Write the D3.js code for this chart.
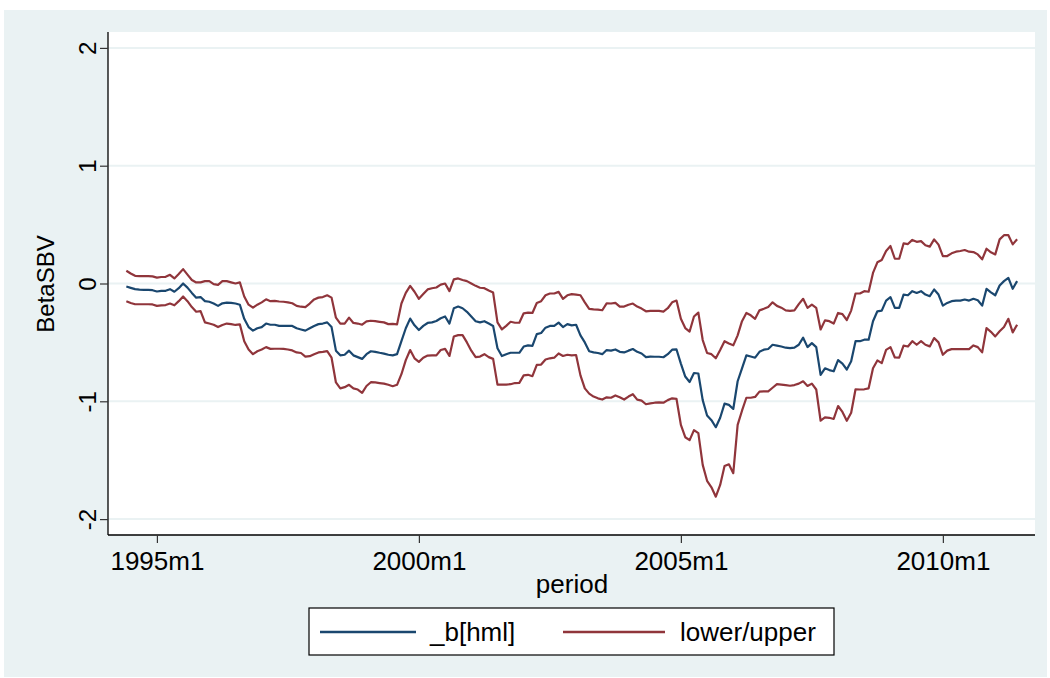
<!DOCTYPE html>
<html><head><meta charset="utf-8">
<script src="https://cdn.jsdelivr.net/npm/d3@7"></script>
<style>body{margin:0;background:#fff}svg{display:block}text{font-family:"Liberation Sans",Arial,sans-serif;fill:#000}</style>
</head><body><svg id="c" width="1050" height="678"></svg>
<script>
// first period of the series: 1994m6 (monthly)
const startYear = 1994, startMonth = 6;
const xTickLabels = ["1995m1","2000m1","2005m1","2010m1"];
const yTicks = [-2,-1,0,1,2];
const seriesNames = ["_b[hml]","lower/upper"];

const beta = [
-0.026,-0.037,-0.048,-0.052,-0.054,-0.054,-0.057,-0.068,-0.063,-0.062,
-0.048,-0.070,-0.040,0.000,-0.035,-0.080,-0.120,-0.115,-0.150,-0.155,
-0.170,-0.190,-0.168,-0.163,-0.165,-0.170,-0.180,-0.300,-0.370,-0.400,
-0.380,-0.370,-0.340,-0.350,-0.350,-0.360,-0.360,-0.360,-0.360,-0.380,
-0.390,-0.400,-0.380,-0.360,-0.345,-0.340,-0.330,-0.370,-0.570,-0.610,
-0.605,-0.570,-0.610,-0.625,-0.640,-0.600,-0.575,-0.580,-0.588,-0.595,
-0.605,-0.610,-0.600,-0.490,-0.380,-0.298,-0.355,-0.395,-0.360,-0.335,
-0.330,-0.318,-0.295,-0.280,-0.340,-0.210,-0.196,-0.210,-0.240,-0.280,
-0.320,-0.330,-0.320,-0.340,-0.360,-0.550,-0.616,-0.600,-0.588,-0.588,
-0.588,-0.535,-0.525,-0.530,-0.430,-0.420,-0.375,-0.360,-0.360,-0.332,
-0.370,-0.345,-0.355,-0.350,-0.440,-0.500,-0.575,-0.585,-0.590,-0.600,
-0.565,-0.570,-0.560,-0.580,-0.585,-0.570,-0.556,-0.580,-0.594,-0.625,
-0.620,-0.622,-0.622,-0.626,-0.600,-0.562,-0.560,-0.680,-0.790,-0.836,
-0.760,-0.764,-0.990,-1.120,-1.160,-1.220,-1.140,-1.020,-1.030,-1.065,
-0.830,-0.720,-0.610,-0.620,-0.630,-0.580,-0.562,-0.556,-0.520,-0.527,
-0.535,-0.545,-0.548,-0.545,-0.520,-0.460,-0.540,-0.506,-0.540,-0.776,
-0.720,-0.735,-0.745,-0.650,-0.680,-0.730,-0.660,-0.490,-0.490,-0.477,
-0.477,-0.320,-0.236,-0.230,-0.145,-0.116,-0.207,-0.207,-0.094,-0.100,
-0.065,-0.080,-0.065,-0.094,-0.108,-0.051,-0.094,-0.188,-0.165,-0.150,
-0.145,-0.145,-0.136,-0.145,-0.130,-0.142,-0.188,-0.045,-0.075,-0.100,
-0.017,0.020,0.048,-0.045,0.020];

const upper = [
0.108,0.085,0.065,0.063,0.062,0.062,0.060,0.050,0.055,0.057,
0.074,0.043,0.080,0.122,0.075,0.030,0.009,0.010,0.020,0.020,
-0.005,-0.011,0.020,0.020,0.010,0.000,0.009,-0.110,-0.180,-0.205,
-0.180,-0.160,-0.134,-0.150,-0.148,-0.153,-0.155,-0.160,-0.168,-0.190,
-0.197,-0.200,-0.170,-0.135,-0.120,-0.115,-0.100,-0.120,-0.290,-0.340,
-0.340,-0.290,-0.335,-0.340,-0.350,-0.322,-0.316,-0.320,-0.325,-0.330,
-0.345,-0.342,-0.347,-0.170,-0.080,-0.020,-0.070,-0.130,-0.090,-0.050,
-0.040,-0.034,-0.010,0.000,-0.065,0.035,0.043,0.030,0.020,0.000,
-0.020,-0.036,-0.040,-0.060,-0.077,-0.330,-0.390,-0.360,-0.325,-0.333,
-0.333,-0.253,-0.248,-0.250,-0.165,-0.150,-0.100,-0.085,-0.085,-0.071,
-0.130,-0.100,-0.090,-0.095,-0.100,-0.160,-0.215,-0.220,-0.222,-0.227,
-0.168,-0.170,-0.164,-0.196,-0.196,-0.180,-0.170,-0.196,-0.213,-0.236,
-0.232,-0.232,-0.233,-0.238,-0.210,-0.160,-0.145,-0.300,-0.378,-0.408,
-0.280,-0.247,-0.480,-0.590,-0.600,-0.635,-0.565,-0.490,-0.510,-0.525,
-0.440,-0.320,-0.250,-0.270,-0.300,-0.228,-0.215,-0.200,-0.160,-0.190,
-0.205,-0.228,-0.233,-0.228,-0.175,-0.130,-0.207,-0.180,-0.207,-0.390,
-0.313,-0.320,-0.340,-0.250,-0.260,-0.310,-0.230,-0.085,-0.085,-0.065,
-0.070,0.090,0.180,0.200,0.276,0.318,0.210,0.210,0.340,0.335,
0.370,0.354,0.360,0.325,0.313,0.375,0.330,0.233,0.233,0.256,
0.270,0.276,0.284,0.270,0.267,0.247,0.205,0.295,0.265,0.247,
0.375,0.410,0.410,0.332,0.375];

const lower = [
-0.150,-0.165,-0.176,-0.176,-0.176,-0.176,-0.178,-0.190,-0.186,-0.183,
-0.170,-0.185,-0.150,-0.110,-0.150,-0.200,-0.240,-0.235,-0.330,-0.340,
-0.350,-0.370,-0.352,-0.340,-0.345,-0.352,-0.347,-0.490,-0.560,-0.600,
-0.575,-0.560,-0.540,-0.555,-0.554,-0.554,-0.555,-0.560,-0.568,-0.585,
-0.590,-0.620,-0.617,-0.600,-0.585,-0.580,-0.574,-0.630,-0.840,-0.890,
-0.880,-0.860,-0.890,-0.900,-0.929,-0.870,-0.838,-0.840,-0.845,-0.850,
-0.860,-0.872,-0.860,-0.770,-0.650,-0.565,-0.635,-0.665,-0.630,-0.612,
-0.610,-0.610,-0.565,-0.555,-0.615,-0.450,-0.438,-0.438,-0.500,-0.570,
-0.625,-0.620,-0.600,-0.625,-0.640,-0.858,-0.858,-0.858,-0.855,-0.845,
-0.844,-0.780,-0.775,-0.787,-0.690,-0.688,-0.645,-0.635,-0.630,-0.594,
-0.615,-0.605,-0.610,-0.607,-0.780,-0.890,-0.935,-0.960,-0.975,-0.985,
-0.966,-0.970,-0.950,-0.966,-0.985,-0.960,-0.940,-0.986,-0.994,-1.025,
-1.018,-1.012,-1.009,-1.012,-0.990,-0.975,-0.980,-1.200,-1.305,-1.330,
-1.245,-1.270,-1.540,-1.675,-1.730,-1.810,-1.710,-1.550,-1.535,-1.610,
-1.200,-1.080,-0.970,-0.970,-0.963,-0.918,-0.915,-0.915,-0.885,-0.855,
-0.858,-0.863,-0.868,-0.862,-0.850,-0.830,-0.870,-0.850,-0.900,-1.165,
-1.136,-1.140,-1.150,-1.040,-1.090,-1.165,-1.097,-0.898,-0.900,-0.898,
-0.890,-0.720,-0.653,-0.676,-0.563,-0.540,-0.628,-0.630,-0.528,-0.535,
-0.490,-0.520,-0.490,-0.520,-0.534,-0.463,-0.500,-0.605,-0.570,-0.557,
-0.557,-0.557,-0.557,-0.557,-0.526,-0.540,-0.585,-0.378,-0.410,-0.449,
-0.406,-0.370,-0.300,-0.415,-0.350];

// month index relative to 1995m1
const mIndex = beta.map((_, i) => (startYear - 1995) * 12 + (startMonth - 1) + i);
const tickMonths = xTickLabels.map(s => { const [y, m] = s.split("m").map(Number); return (y - 1995) * 12 + (m - 1); });

const svg = d3.select("#c");
const blue = "#1a476f", red = "#90353b", bg = "#eaf2f3";

svg.append("rect").attr("x", 4).attr("y", 10).attr("width", 1043).attr("height", 667).attr("fill", bg);

const pl = 108, pr = 1035, pt = 32, pb = 535;
svg.append("rect").attr("x", pl).attr("y", pt).attr("width", pr - pl).attr("height", pb - pt).attr("fill", "#fff");

const x = d3.scaleLinear().domain([-11.2, 201.1]).range([pl, pr]);
const y = d3.scaleLinear().domain([-2.135, 2.135]).range([pb, pt]);

// gridlines
svg.append("g").selectAll("line").data(yTicks).join("line")
  .attr("x1", pl).attr("x2", pr).attr("y1", d => y(d)).attr("y2", d => y(d))
  .attr("stroke", bg).attr("stroke-width", 2);

const line = d3.line().x((d, i) => x(mIndex[i])).y(d => y(d));
[lower, upper].forEach(s => svg.append("path").datum(s).attr("d", line)
  .attr("fill", "none").attr("stroke", red).attr("stroke-width", 2.2).attr("stroke-linejoin", "round"));
svg.append("path").datum(beta).attr("d", line)
  .attr("fill", "none").attr("stroke", blue).attr("stroke-width", 2.2).attr("stroke-linejoin", "round");

// y axis
const yAxis = svg.append("g").attr("transform", `translate(${pl},0)`)
  .call(d3.axisLeft(y).tickValues(yTicks).tickSize(8).tickFormat(d => String(d)));
yAxis.select(".domain").attr("stroke", "#000").attr("stroke-width", 1.3).attr("d", `M0,${pt}V${pb}`);
yAxis.selectAll(".tick line").attr("stroke", "#333").attr("stroke-width", 1.2);
yAxis.selectAll(".tick text").attr("font-size", 24).attr("font-family", "Liberation Sans, Arial, sans-serif")
  .attr("x", 0).attr("dy", 0).attr("text-anchor", "middle")
  .attr("transform", "translate(-20,0) rotate(-90) translate(0,8)");

// x axis
const xAxis = svg.append("g").attr("transform", `translate(0,${pb})`)
  .call(d3.axisBottom(x).tickValues(tickMonths).tickSize(8).tickFormat((d, i) => xTickLabels[i]));
xAxis.select(".domain").attr("stroke", "#000").attr("stroke-width", 1.3).attr("d", `M${pl},0H${pr}`);
xAxis.selectAll(".tick line").attr("stroke", "#333").attr("stroke-width", 1.2);
xAxis.selectAll(".tick text").attr("font-size", 26).attr("font-family", "Liberation Sans, Arial, sans-serif")
  .attr("y", 35).attr("dy", 0);

// axis titles
svg.append("text").attr("x", 572).attr("y", 593).attr("text-anchor", "middle").attr("font-size", 26).text("period");
svg.append("text").attr("transform", "translate(54,284) rotate(-90)").attr("text-anchor", "middle").attr("font-size", 24).text("BetaSBV");

// legend
const lg = svg.append("g");
lg.append("rect").attr("x", 309).attr("y", 608).attr("width", 525).attr("height", 47).attr("fill", "#fff").attr("stroke", "#000").attr("stroke-width", 1.2);
const items = [{c: blue, x1: 320, x2: 416, tx: 430}, {c: red, x1: 563, x2: 665, tx: 680}];
items.forEach((it, i) => {
  lg.append("line").attr("x1", it.x1).attr("x2", it.x2).attr("y1", 632).attr("y2", 632).attr("stroke", it.c).attr("stroke-width", 2.4);
  lg.append("text").attr("x", it.tx).attr("y", 641).attr("font-size", 26).text(seriesNames[i]);
});
</script></body></html>
